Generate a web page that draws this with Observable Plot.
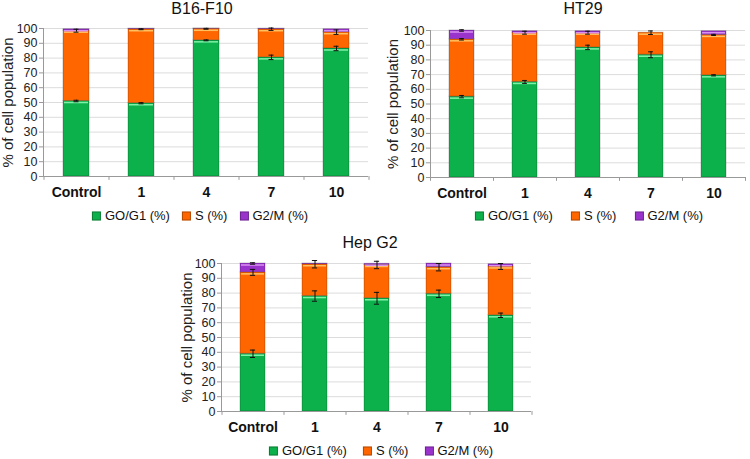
<!DOCTYPE html>
<html><head><meta charset="utf-8">
<script src="https://cdn.jsdelivr.net/npm/d3@7"></script>
<script src="https://cdn.jsdelivr.net/npm/@observablehq/plot@0.6"></script>
<style>
body{margin:0;background:#fff;font-family:"Liberation Sans",Arial,sans-serif;}
#wrap{position:relative;width:750px;height:459px;overflow:hidden;background:#fff;}
.panel{position:absolute;}
.title{position:absolute;font-size:16px;color:#111;transform:translate(-50%,-50%);white-space:nowrap;}
.legend{position:absolute;transform:translate(-50%,-50%);font-size:13px;display:flex;white-space:nowrap;color:#111;align-items:center;}
.legend .sw{display:inline-block;width:7px;height:7px;margin-right:4px;vertical-align:middle;}
</style></head><body><div id="wrap"></div>
<script>
// ---- data ----
const categories = ["Control", "1", "4", "7", "10"];
const phases = ["GO/G1 (%)", "S (%)", "G2/M (%)"];
const phaseColors = ["#0db14b", "#ff6600", "#9933cc"];
const phaseHighlights = ["#7ff0a8", "#ffc060", "#d890f0"];
const yTicks = [0, 10, 20, 30, 40, 50, 60, 70, 80, 90, 100];

// B16-F10
const b16G1 = [51, 49.5, 92, 80.5, 86.5];
const b16S = [47.5, 50, 7.8, 19, 11];
const b16G2 = [1, 0.4, 0.2, 0.4, 2];
const b16ErrG1 = [0.5, 0.4, 0.3, 1.5, 1.5];
const b16ErrS = [1, 0.3, 0.3, 0.8, 1.5];
const b16ErrG2 = [0, 0, 0, 0, 0];

// HT29
const htG1 = [55, 65, 88.5, 83.5, 69.5];
const htS = [39, 33.5, 10, 15, 27.5];
const htG2 = [6, 1, 1, 0, 2.5];
const htErrG1 = [0.8, 1, 1.5, 2, 0.4];
const htErrS = [0.5, 1, 1, 1.2, 0.4];
const htErrG2 = [0.5, 0, 0, 0, 0];

// Hep G2
const hepG1 = [39, 78, 76.5, 79.5, 65];
const hepS = [55, 21.5, 22.5, 18, 33];
const hepG2 = [6, 0.5, 0.8, 2.5, 1.5];
const hepErrG1 = [2.5, 3.5, 4, 2.5, 1.5];
const hepErrS = [2, 2.5, 2.5, 2.5, 2];
const hepErrG2 = [0.5, 0, 0, 0, 0];

const wrap = document.getElementById("wrap");
const FONT = '"Liberation Sans", Arial, sans-serif';

function makePanel(cfg) {
  const series = [cfg.g1, cfg.s, cfg.g2];
  const errs = [cfg.e1, cfg.es, cfg.e2];
  const rows = [];
  categories.forEach((c, j) => phases.forEach((p, i) => rows.push({cat: c, phase: p, value: series[i][j]})));
  const errRows = [];
  const topRows = [];
  categories.forEach((c, j) => {
    let cum = 0;
    phases.forEach((p, i) => {
      cum += series[i][j];
      if (series[i][j] > 0.6) topRows.push({cat: c, top: cum, hl: phaseHighlights[i]});
      if (errs[i][j] > 0) errRows.push({cat: c, top: cum, err: errs[i][j]});
    });
  });
  const innerW = cfg.width - cfg.ml - cfg.mr;
  const step = innerW / categories.length;
  const bw = step * 0.4;
  const capInset = (bw - 5) / 2;
  const svg = Plot.plot({
    width: cfg.width, height: cfg.height,
    marginLeft: cfg.ml, marginRight: cfg.mr, marginTop: cfg.mt, marginBottom: cfg.mb,
    style: {fontFamily: FONT, fontSize: "12.5px", color: "#222", background: "transparent", overflow: "visible"},
    x: {domain: categories, paddingInner: 0.6, paddingOuter: 0.3, label: null},
    y: {domain: [0, 100], label: null},
    color: {domain: phases, range: phaseColors},
    marks: [
      Plot.gridY(yTicks.slice(1), {stroke: "#dcdcdc", strokeOpacity: 1}),
      Plot.barY(rows, {x: "cat", y: "value", fill: "phase", stroke: "#000", strokeOpacity: 0.22, strokeWidth: 1}),
      Plot.tickY(topRows, {x: "cat", y: "top", stroke: d => d.hl, strokeWidth: 1.5, dy: 1.5, insetLeft: 1, insetRight: 1}),
      Plot.ruleX(errRows, {x: "cat", y1: d => d.top - d.err, y2: d => d.top + d.err, stroke: "#111", strokeWidth: 1}),
      Plot.tickY(errRows, {x: "cat", y: d => d.top - d.err, stroke: "#111", insetLeft: capInset, insetRight: capInset}),
      Plot.tickY(errRows, {x: "cat", y: d => d.top + d.err, stroke: "#111", insetLeft: capInset, insetRight: capInset}),
      Plot.ruleY([0], {stroke: "#999"}),
      Plot.frame({anchor: "left", stroke: "#999"}),
      Plot.ruleX(categories, {x: d => d, y1: 0, y2: -2.6, dx: -step / 2, stroke: "#999"}),
      Plot.ruleX(categories.slice(-1), {x: d => d, y1: 0, y2: -2.6, dx: step / 2, stroke: "#999"}),
      Plot.axisY({ticks: yTicks, tickSize: 4, tickPadding: 2, stroke: "#999", fill: "#222", label: "% of cell population",
        labelAnchor: "center", labelArrow: "none", labelOffset: cfg.labelOffset, fontSize: "12.5px"}),
      Plot.axisX({tickSize: 0, tickPadding: 11, fontWeight: "bold", fontSize: "14px", fill: "#111"})
    ]
  });
  svg.classList.add("panel");
  svg.style.left = cfg.left + "px";
  svg.style.top = cfg.top + "px";
  svg.querySelectorAll("[aria-label='y-axis label'] text").forEach(el => { el.setAttribute("font-size", "15px"); el.style.fontSize = "15px"; });
  wrap.appendChild(svg);

  const t = document.createElement("div");
  t.className = "title";
  t.textContent = cfg.title;
  t.style.left = cfg.titleX + "px";
  t.style.top = cfg.titleY + "px";
  wrap.appendChild(t);

  const lg = document.createElement("div");
  lg.className = "legend";
  lg.style.left = cfg.legX + "px";
  lg.style.top = cfg.legY + "px";
  lg.style.gap = cfg.legGap + "px";
  phases.forEach((p, i) => {
    const it = document.createElement("span");
    const sw = document.createElement("span");
    sw.className = "sw";
    sw.style.background = phaseColors[i];
    sw.style.border = "0.5px solid rgba(0,0,0,0.3)";
    it.appendChild(sw);
    it.appendChild(document.createTextNode(p));
    lg.appendChild(it);
  });
  wrap.appendChild(lg);
}

makePanel({title: "B16-F10", g1: b16G1, s: b16S, g2: b16G2, e1: b16ErrG1, es: b16ErrS, e2: b16ErrG2,
  left: 0, top: 18, width: 375, height: 190, ml: 43, mr: 7, mt: 10, mb: 32, labelOffset: 41,
  titleX: 202, titleY: 9, legX: 200, legY: 215, legGap: 12});
makePanel({title: "HT29", g1: htG1, s: htS, g2: htG2, e1: htErrG1, es: htErrS, e2: htErrG2,
  left: 375, top: 20, width: 375, height: 188, ml: 55, mr: 5, mt: 10, mb: 31, labelOffset: 43,
  titleX: 583, titleY: 9, legX: 589, legY: 215, legGap: 18});
makePanel({title: "Hep G2", g1: hepG1, s: hepS, g2: hepG2, e1: hepErrG1, es: hepErrS, e2: hepErrG2,
  left: 180, top: 253, width: 360, height: 190, ml: 41, mr: 9, mt: 10, mb: 32, labelOffset: 40,
  titleX: 370, titleY: 243, legX: 381, legY: 450, legGap: 16});
</script></body></html>
